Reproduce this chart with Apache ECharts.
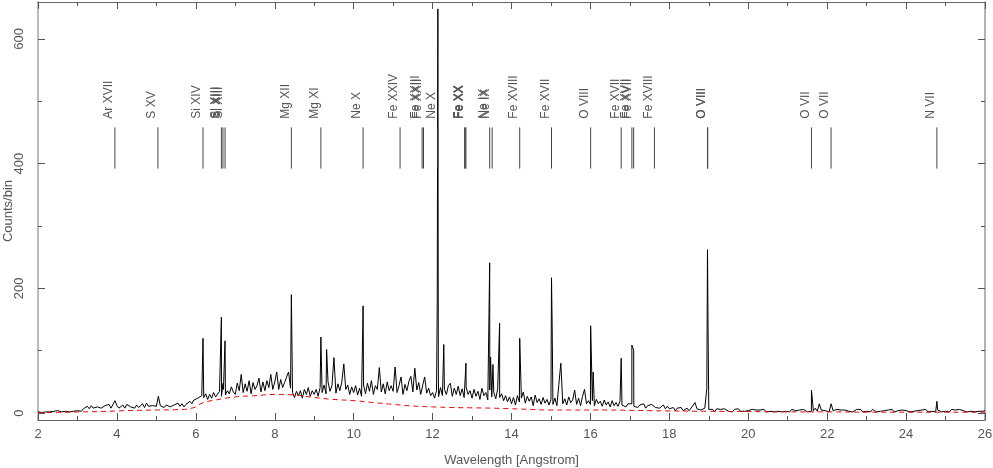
<!DOCTYPE html>
<html>
<head>
<meta charset="utf-8">
<script src="https://cdn.jsdelivr.net/npm/echarts@6/dist/echarts.min.js"></script>
<style>
  html, body { margin: 0; padding: 0; background: #fff; }
  #chart { width: 993px; height: 468px; }
</style>
</head>
<body>
<div id="chart"></div>
<script>
// spectrum, 0.05 A bins starting at 2.0 A (counts/bin)
var binStart = 2.0
var binWidth = 0.05
var counts = [
  2,4,1,4,2,5,2,5,3,1,4,3,2,5,3,6,2,4,3,6,
  4,7,3,7,9,11,7,12,8,9,10,13,8,9,12,9,14,8,11,20,
  12,8,11,13,8,14,17,10,12,8,13,9,12,15,9,16,11,9,12,14,
  11,27,12,10,9,13,15,10,11,13,12,16,11,15,10,14,16,19,15,21,
  18,24,21,28,25,31,22,30,24,33,26,29,35,27,38,29,36,31,42,34,
  30,48,36,62,33,47,35,52,31,49,38,44,56,34,50,36,52,41,62,38,
  50,66,38,54,41,49,58,66,40,33,25,35,28,36,24,38,30,41,27,36,
  30,38,27,41,33,45,31,50,35,44,89,32,47,36,50,79,38,45,30,42,
  33,44,29,40,27,45,31,48,35,52,30,44,38,73,34,47,31,50,36,44,
  35,74,33,44,58,30,46,36,51,59,34,72,37,49,30,45,58,32,40,28,
  33,24,36,26,41,28,38,30,44,48,27,40,30,43,28,39,25,42,30,36,
  24,38,27,35,22,40,28,33,21,37,26,34,23,39,25,31,20,28,18,26,
  15,25,13,28,18,24,34,16,27,19,26,12,29,17,23,14,25,16,22,13,
  22,14,24,12,46,80,15,23,13,26,17,21,37,14,24,12,27,38,15,20,
  14,20,12,22,15,19,11,21,13,18,10,20,12,17,11,19,13,16,10,15,
  12,15,11,14,9,13,10,15,8,12,10,14,17,9,12,8,11,13,7,11,
  7,5,9,4,8,5,9,4,7,8,4,8,5,17,7,10,5,6,8,9,
  6,3,6,2,7,4,6,3,7,5,3,6,2,6,4,7,3,5,3,6,
  4,2,6,3,5,2,5,3,6,2,5,3,4,2,5,3,6,2,4,3,
  5,2,6,3,4,2,5,3,6,4,2,5,3,4,8,3,15,5,2,4,
  4,2,15,4,2,6,3,5,2,5,6,3,5,2,4,6,3,6,2,4,
  3,5,2,6,4,2,5,3,6,4,2,5,3,6,2,5,4,2,5,3,
  4,6,2,5,3,6,4,2,5,3,6,2,5,3,6,2,5,4,2,5,
  3,5,2,6,3,5,2,6,3,4,5,2,5,3,6,2,5,3,4,3,4
]

var peakBins = [
  [6.182, 120], [6.648, 154], [6.690, 48], [6.740, 116],
  [8.421, 190], [9.169, 122], [9.314, 102], [10.239, 172],
  [12.118, 178], [12.134, 648], [12.145, 90], [12.284, 110],
  [12.846, 80], [13.447, 241], [13.470, 90], [13.530, 78],
  [13.699, 144], [14.208, 120], [15.014, 217], [15.030, 141],
  [16.006, 140], [16.070, 66], [16.780, 88], [17.051, 109],
  [17.096, 101], [18.950, 40], [18.967, 262], [18.985, 109],
  [21.602, 37], [24.781, 19]
]

// continuum model (red dashed)
var modelWave = [2, 2.5, 3, 3.5, 4, 4.5, 5, 5.5, 5.9, 6.2, 6.5, 7, 7.5, 8, 8.5, 9, 9.5, 10, 10.5, 11, 11.5, 12, 12.5, 13, 13.5, 14, 14.5, 15, 15.5, 16, 16.5, 17, 17.5, 18, 19, 20, 21, 22, 23, 24, 25, 26]
var modelCounts = [1, 1.2, 1.8, 2.5, 3.5, 4.5, 5, 5.5, 8, 17, 21, 26, 28, 30, 29, 25, 22, 20, 17, 14, 11.5, 10, 9, 8.5, 8, 7, 6, 5, 5, 5, 5, 4.5, 4, 3.5, 3, 2.5, 2, 2, 1.5, 1.5, 1.5, 1.5]

// line identifications [wavelength, ion]
var ionLines = [
  [3.949, 'Ar XVII'], [5.039, 'S XV'], [6.182, 'Si XIV'], [6.648, 'Si XIII'],
  [6.688, 'Si XIII'], [6.740, 'Si XIII'], [8.421, 'Mg XII'], [9.169, 'Mg XI'],
  [10.239, 'Ne X'], [11.176, 'Fe XXIV'], [11.736, 'Fe XXIII'], [11.770, 'Fe XXII'],
  [12.134, 'Ne X'], [12.812, 'Fe XX'], [12.827, 'Fe XX'], [12.846, 'Fe XX'],
  [13.447, 'Ne IX'], [13.510, 'Ne IX'], [14.208, 'Fe XVIII'], [15.014, 'Fe XVII'],
  [16.006, 'O VIII'], [16.780, 'Fe XVII'], [17.051, 'Fe XVII'], [17.096, 'Fe XVII'],
  [17.623, 'Fe XVIII'], [18.967, 'O VIII'], [18.973, 'O VIII'], [21.602, 'O VII'],
  [22.098, 'O VII'], [24.781, 'N VII']
]
var markBottom = 392
var markTop = 458
var textBase = 472

var spectrum = counts.map(function (c, i) { return [binStart + i * binWidth, c] })
spectrum = spectrum.concat(peakBins).sort(function (a, b) { return a[0] - b[0] })
var model = modelWave.map(function (w, i) { return [w, modelCounts[i]] })

var font = 'Liberation Sans Narrow, Liberation Sans, sans-serif'
var yMin = -11
var yMax = 659

function yAx (pos, ticks, len, labels, lineColor, lineWidth) {
  return {
    type: 'value', position: pos, min: yMin, max: yMax,
    splitLine: { show: false },
    axisLine: { show: lineColor != null, onZero: false, lineStyle: { color: lineColor, width: lineWidth } },
    axisTick: { show: true, inside: true, length: len, customValues: ticks, lineStyle: { color: '#555' } },
    axisLabel: labels ? { show: true, customValues: ticks, rotate: 90, margin: 12, color: '#555', fontFamily: font, fontSize: 13 } : { show: false }
  }
}
function xAx (pos, labels, lineColor) {
  return {
    type: 'value', position: pos, min: 2, max: 26, interval: 2,
    splitLine: { show: false },
    axisLine: { show: true, onZero: false, lineStyle: { color: lineColor, width: 1 } },
    axisTick: { show: true, inside: true, length: 7, lineStyle: { color: '#555' } },
    minorTick: { show: true, splitNumber: 2, length: 4, lineStyle: { color: '#555' } },
    axisLabel: labels ? { show: true, margin: 8, color: '#555', fontFamily: font, fontSize: 13 } : { show: false },
    name: labels ? 'Wavelength [Angstrom]' : '',
    nameLocation: 'middle', nameGap: 34,
    nameTextStyle: { color: '#555', fontFamily: font, fontSize: 13 }
  }
}

var chart = echarts.init(document.getElementById('chart'))
var leftMajor = yAx('left', [0, 200, 400, 600], 7, true, '#bbb', 2)
leftMajor.name = 'Counts/bin'
leftMajor.nameLocation = 'middle'
leftMajor.nameGap = 23
leftMajor.nameMoveOverlap = false
leftMajor.nameRotate = 90
leftMajor.nameTextStyle = { color: '#555', fontFamily: font, fontSize: 13 }

var option = {
  backgroundColor: '#fff',
  animation: false,
  grid: { left: 38, right: 8, top: 2, bottom: 48, containLabel: false, outerBoundsMode: 'none' },
  xAxis: [xAx('bottom', true, '#666'), xAx('top', false, '#666')],
  yAxis: [
    leftMajor,
    yAx('left', [100, 300, 500], 4, false, null),
    yAx('right', [0, 200, 400, 600], 7, false, '#999', 1.5),
    yAx('right', [100, 300, 500], 4, false, null)
  ],
  series: [
    {
      type: 'line', data: spectrum, showSymbol: false,
      lineStyle: { color: '#000', width: 1 }, z: 2
    },
    {
      type: 'line', data: model, showSymbol: false, smooth: true,
      lineStyle: { color: '#e00', width: 1, type: [5, 4] }, z: 3
    },
    {
      type: 'custom', data: ionLines.map(function (l) { return [l[0]] }), clip: false, z: 4,
      renderItem: function (params, api) {
        var w = api.value(0)
        var p1 = api.coord([w, markBottom])
        var p2 = api.coord([w, markTop])
        var pt = api.coord([w, textBase])
        return {
          type: 'group',
          children: [
            { type: 'line', shape: { x1: p1[0], y1: p1[1], x2: p2[0], y2: p2[1] }, style: { stroke: '#444', lineWidth: 1 } },
            {
              type: 'text', x: pt[0], y: pt[1], rotation: Math.PI / 2,
              style: { text: ionLines[params.dataIndex][1], fill: '#555', font: '12px ' + font, textAlign: 'left', textVerticalAlign: 'bottom' }
            }
          ]
        }
      }
    }
  ]
}
chart.setOption(option)
</script>
</body>
</html>
